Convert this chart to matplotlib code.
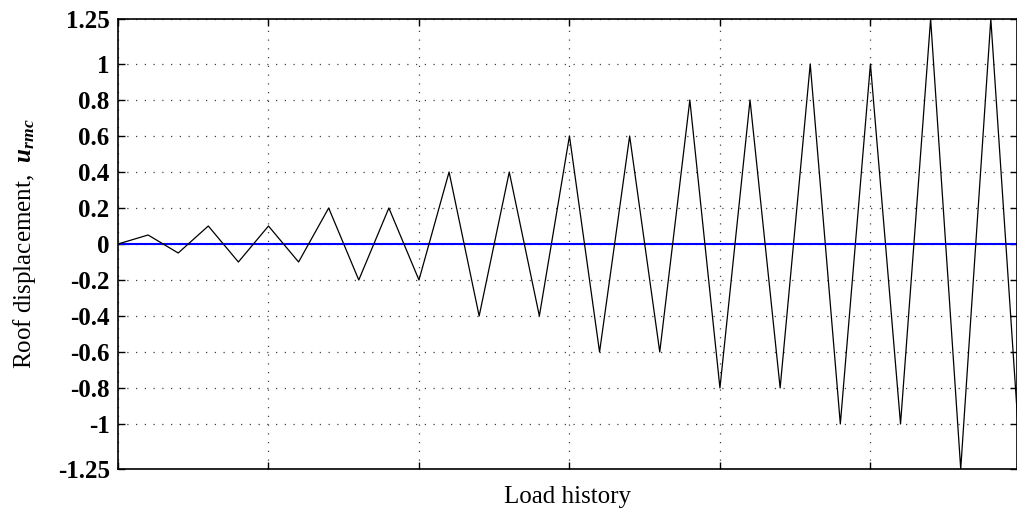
import numpy as np
import matplotlib
matplotlib.use("Agg")
import matplotlib.pyplot as plt

# load history: step index vs roof displacement
steps = list(range(0, 31))
disp = [0, 0.05, -0.05, 0.1, -0.1, 0.1, -0.1, 0.2, -0.2, 0.2, -0.2,
        0.4, -0.4, 0.4, -0.4, 0.6, -0.6, 0.6, -0.6, 0.8, -0.8,
        0.8, -0.8, 1.0, -1.0, 1.0, -1.0, 1.25, -1.25, 1.25, -1.25]
yticks = [-1.25, -1, -0.8, -0.6, -0.4, -0.2, 0, 0.2, 0.4, 0.6, 0.8, 1, 1.25]
ytick_labels = ["-1.25", "-1", "-0.8", "-0.6", "-0.4", "-0.2", "0",
                "0.2", "0.4", "0.6", "0.8", "1", "1.25"]
xticks = [0, 5, 10, 15, 20, 25]

plt.rcParams['font.family'] = ['Liberation Serif', 'DejaVu Serif']
plt.rcParams['mathtext.fontset'] = 'custom'
plt.rcParams['mathtext.rm'] = 'Liberation Serif'
plt.rcParams['mathtext.it'] = 'Liberation Serif:italic'
plt.rcParams['mathtext.bf'] = 'Liberation Serif:bold'
plt.rcParams['mathtext.bfit'] = 'Liberation Serif:italic:bold'

fig = plt.figure(figsize=(10.17, 5.14), dpi=100)
ax = fig.add_axes([118 / 1017, 1 - 469 / 514, 1 - 118 / 1017, (469 - 19) / 514])

ax.plot(steps, disp, '-', color='black', lw=0.9, zorder=3)
ax.axhline(0, color='blue', lw=1.5, zorder=2)

ax.set_xlim(0, 29.87)
ax.set_ylim(-1.25, 1.25)
ax.set_yticks(yticks)
ax.set_yticklabels(ytick_labels, fontweight='bold')
ax.set_xticks(xticks)
ax.set_xticklabels([])

ax.grid(True, color='#444444', linestyle=(0, (1, 6)), lw=0.9)
ax.tick_params(direction='in', length=5, width=1, top=True, right=True,
               labelsize=18, pad=6)
for s in ax.spines.values():
    s.set_linewidth(1.2)

ax.set_xlabel("Load history", fontsize=18, labelpad=6)
ax.set_ylabel(r"Roof displacement, $\ \mathbfit{u_{rmc}}$", fontsize=18, labelpad=14)

fig.savefig("out.png", dpi=100)
